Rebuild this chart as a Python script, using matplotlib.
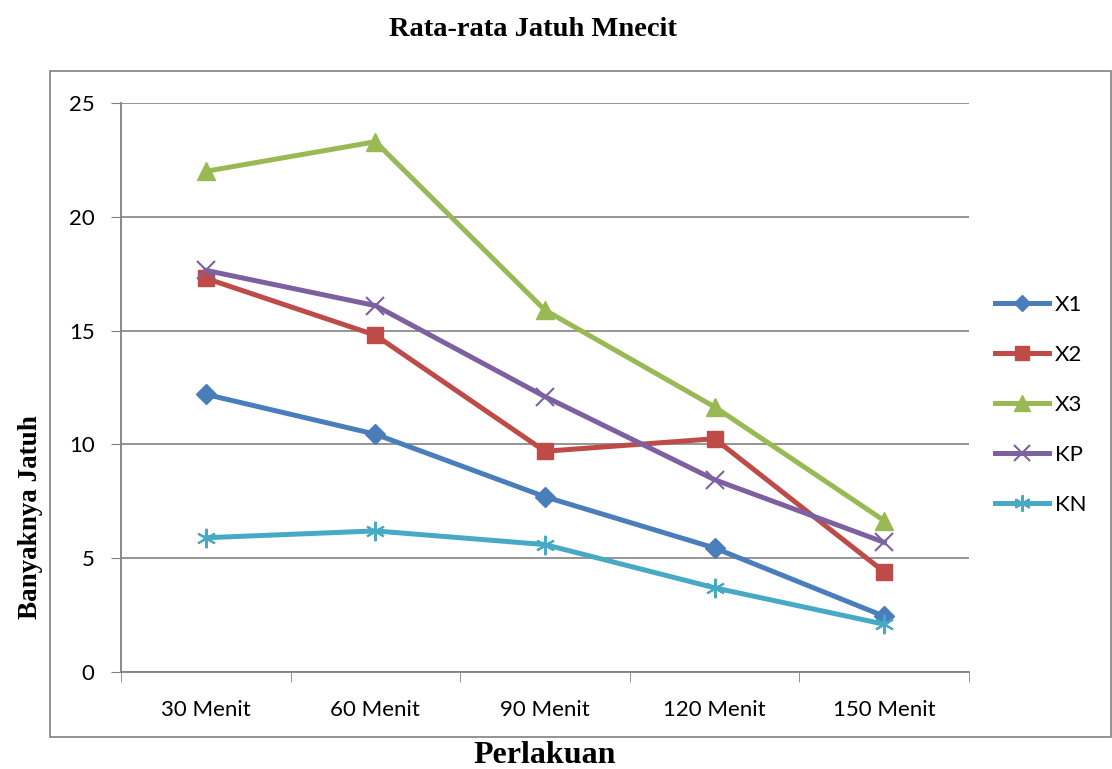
import numpy as np
import matplotlib.pyplot as plt
from matplotlib.patches import Rectangle

kategori = ['30 Menit', '60 Menit', '90 Menit', '120 Menit', '150 Menit']
x1 = [12.2, 10.45, 7.7, 5.45, 2.45]
x2 = [17.3, 14.8, 9.7, 10.25, 4.4]
x3 = [22.0, 23.3, 15.9, 11.65, 6.65]
kp = [17.65, 16.1, 12.1, 8.45, 5.7]
kn = [5.9, 6.2, 5.6, 3.7, 2.1]

fig = plt.figure(figsize=(11.12, 7.69), dpi=100)
ax = fig.add_axes([0.1088, 0.1261, 0.7626, 0.7399])

# bingkai luar chart
fig.patches.append(Rectangle((0.045, 0.042), 0.954, 0.866, transform=fig.transFigure,
                             fill=False, edgecolor='#808080', linewidth=1.2))

x = np.arange(len(kategori))
lw = 3.6
ax.plot(x, x1, color='#4A7EBB', lw=lw, marker='D', ms=10, label='X1')
ax.plot(x, x2, color='#BE4B48', lw=lw, marker='s', ms=12, label='X2')
ax.plot(x, x3, color='#98B954', lw=lw, marker='^', ms=13, label='X3')
ax.plot(x, kp, color='#7D60A0', lw=lw, marker='x', ms=13, mew=1.5, label='KP')
ax.plot(x, kn, color='#46AAC5', lw=lw, marker=(6, 2, 0), ms=14, mew=1.5, label='KN')

ax.set_xlim(-0.5, 4.5)
ax.set_ylim(0, 25)
ax.set_yticks([0, 5, 10, 15, 20, 25])
ax.set_xticks(x)
ax.set_xticklabels(kategori)
ax.set_xticks(np.arange(-0.5, 5, 1), minor=True)
ax.tick_params(axis='x', which='major', length=0, pad=20, labelsize=16)
ax.tick_params(axis='x', which='minor', length=7, color='#808080', direction='out')
ax.tick_params(axis='y', length=7, color='#808080', pad=12, labelsize=16)
for t in ax.get_xticklabels() + ax.get_yticklabels():
    t.set_family('Lato')

ax.grid(axis='y', color='#8C8C8C', lw=1.3)
ax.set_axisbelow(True)
for s in ['top', 'right']:
    ax.spines[s].set_visible(False)
for s in ['left', 'bottom']:
    ax.spines[s].set_color('#808080')
    ax.spines[s].set_linewidth(1.3)

fig.text(0.479, 0.961, 'Rata-rata Jatuh Mnecit', ha='center', va='center',
         family='Liberation Serif', fontweight='bold', fontsize=20.5)
fig.text(0.49, 0.018, 'Perlakuan', ha='center', va='center',
         family='Liberation Serif', fontweight='bold', fontsize=23)
fig.text(0.027, 0.328, 'Banyaknya Jatuh', ha='center', va='center', rotation=90,
         family='Liberation Serif', fontweight='bold', fontsize=19.5)

leg = ax.legend(loc='center left', bbox_to_anchor=(0.895, 0.473), bbox_transform=fig.transFigure,
                frameon=False, handlelength=2.4, labelspacing=1.35, handletextpad=0.3,
                borderaxespad=0, borderpad=0, markerscale=0.85,
                prop={'family': 'Lato', 'size': 16})

fig.savefig('out.png', dpi=100)
